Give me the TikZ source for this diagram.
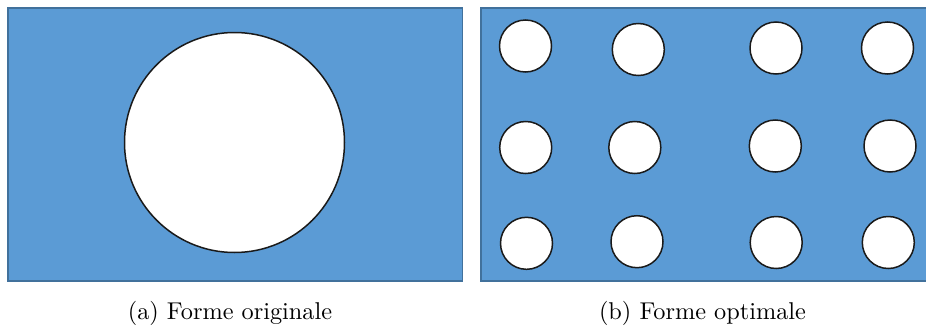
\documentclass[tikz,border=0pt]{standalone}
\definecolor{plate}{HTML}{5B9BD5}
\definecolor{plateedge}{HTML}{41719C}
\definecolor{holeedge}{HTML}{1A1A1A}
\begin{document}
\begin{tikzpicture}[x=1pt,y=-1pt,
  platebox/.style={fill=plate,draw=plateedge,line width=1.2pt},
  hole/.style={circle,fill=white,draw=holeedge,line width=1.5pt,inner sep=0pt},
  smallhole/.style={hole,minimum size=52pt},
  captext/.style={anchor=base,scale=2.43,transform shape,font=\normalsize}]
\useasboundingbox (0,0) rectangle (926,327);
\path[platebox] (8,8) rectangle (462.5,281);
\path[platebox] (481,8) rectangle (926.6,281);
\node[hole,minimum size=220pt] (big) at (234.5,142.5) {};
% row 1
\node[smallhole] (h11) at (525.5,46) {};
\node[smallhole] (h12) at (638.3,49.5) {};
\node[smallhole] (h13) at (776,48) {};
\node[smallhole] (h14) at (887.5,48) {};
% row 2
\node[smallhole] (h21) at (525.7,147.5) {};
\node[smallhole] (h22) at (634.8,147.5) {};
\node[smallhole] (h23) at (775.3,146) {};
\node[smallhole] (h24) at (890,146) {};
% row 3
\node[smallhole] (h31) at (526.5,243.3) {};
\node[smallhole] (h32) at (637,241.7) {};
\node[smallhole] (h33) at (776.2,242.5) {};
\node[smallhole] (h34) at (888.3,242.5) {};
\node[captext] (capa) at (230,319) {(a) Forme originale};
\node[captext] (capb) at (702.5,319) {(b) Forme optimale};
\end{tikzpicture}
\end{document}
